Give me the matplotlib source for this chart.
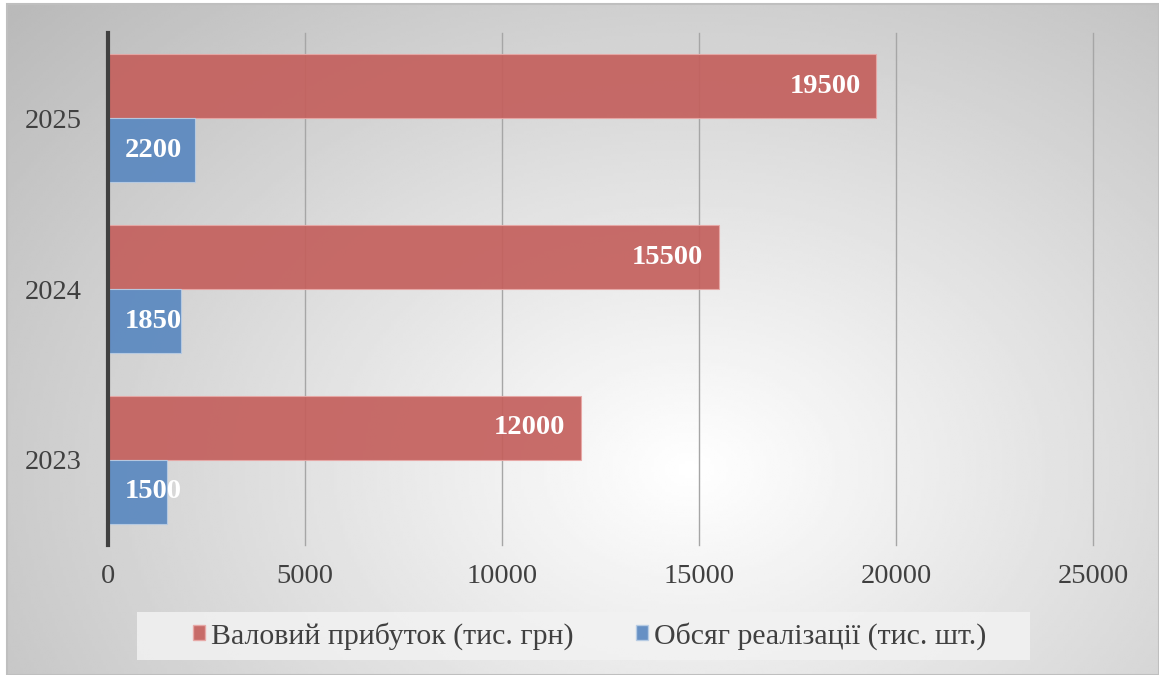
import numpy as np
import matplotlib.pyplot as plt
from matplotlib.patches import Patch, Rectangle

years = ['2023', '2024', '2025']
profit = [12000, 15500, 19500]      # Валовий прибуток (тис. грн)
volume = [1500, 1850, 2200]         # Обсяг реалізації (тис. шт.)
series_names = ['Валовий прибуток (тис. грн)', 'Обсяг реалізації (тис. шт.)']
xticks = [0, 5000, 10000, 15000, 20000, 25000]

red = '#C4605D'
blue = '#5A88C0'
serif = ['Liberation Serif', 'DejaVu Serif']
plt.rcParams['font.family'] = serif

W, H = 1159, 675
fig = plt.figure(figsize=(W / 100, H / 100), dpi=100)
fig.patch.set_facecolor('white')

# radial grey gradient behind the chart
bg = fig.add_axes([7 / W, 0, 1 - 7 / W, 1 - 4 / H], zorder=-10)
gx, gy = np.meshgrid(np.linspace(7, W, 400), np.linspace(4, H, 240))
r = np.hypot((gx - 690) / 700, (gy - 470) / 520)
shade = 1.0 - 0.27 * np.clip(r, 0, 1.3) / 1.3
bg.imshow(shade, cmap='gray', vmin=0, vmax=1, aspect='auto',
          extent=[0, 1, 0, 1], origin='upper', interpolation='bilinear')
bg.set_xlim(0, 1)
bg.set_ylim(0, 1)
bg.axis('off')
bg.add_patch(Rectangle((0, 0), 1, 1, transform=bg.transAxes, fill=False,
                       edgecolor='#BFBFBF', lw=1.5, clip_on=False))

ax = fig.add_axes([108 / W, (H - 545) / H, (1093 - 108) / W, (545 - 33) / H])
ax.patch.set_alpha(0)

y = np.arange(len(years))
h = 0.375
ax.barh(y + h / 2, profit, height=h, color=red, alpha=0.92,
        edgecolor='#E8A8A6', lw=0.8, zorder=3)
ax.barh(y - h / 2, volume, height=h, color=blue, alpha=0.92,
        edgecolor='#B8CCE4', lw=0.8, zorder=3)

for yi, v in zip(y, profit):
    ax.text(v - 400, yi + h / 2, str(v), ha='right', va='center',
            color='white', fontsize=20.5, fontweight='bold', zorder=4)
for yi, v in zip(y, volume):
    ax.text(430, yi - h / 2, str(v), ha='left', va='center',
            color='white', fontsize=20.5, fontweight='bold', zorder=4)

ax.set_xlim(0, 25000)
ax.set_ylim(-0.5, 2.5)
ax.set_xticks(xticks)
ax.set_xticklabels([str(t) for t in xticks])
ax.set_yticks(y)
ax.set_yticklabels(years)
ax.tick_params(length=0, labelsize=20.5, labelcolor='#404040', pad=14)
ax.tick_params(axis='y', pad=19)
for xt in xticks[1:]:
    ax.axvline(xt, color='#A6A6A6', lw=1, zorder=1, clip_on=False)
for s in ['top', 'right', 'bottom']:
    ax.spines[s].set_visible(False)
ax.spines['left'].set_color('#404040')
ax.spines['left'].set_linewidth(3)
ax.spines['left'].set_zorder(5)

# legend panel
fig.patches.append(Rectangle((137 / W, (H - 660) / H), (1030 - 137) / W, 48 / H,
                             transform=fig.transFigure, facecolor='#F2F2F2',
                             edgecolor='none', alpha=0.85, zorder=1))
handles = [Patch(facecolor=red, alpha=0.92, edgecolor='#E8A8A6'),
           Patch(facecolor=blue, alpha=0.92, edgecolor='#B8CCE4')]
leg = fig.legend(handles, series_names, loc='center',
                 bbox_to_anchor=(590 / W, (H - 636) / H), ncol=2,
                 fontsize=21.5, frameon=False,
                 handlelength=0.4, handleheight=0.4, handletextpad=0.2,
                 columnspacing=2.1)
for t in leg.get_texts():
    t.set_color('#404040')

fig.savefig('out.png', dpi=100)
